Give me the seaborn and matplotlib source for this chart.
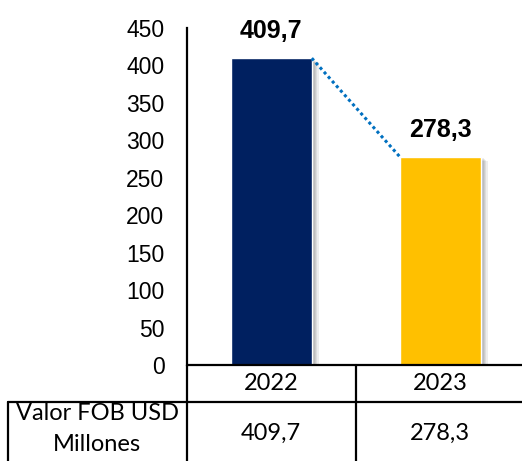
import pandas as pd
import matplotlib
matplotlib.use("Agg")
import matplotlib.pyplot as plt
import matplotlib.patheffects as pe
from matplotlib.lines import Line2D
import seaborn as sns

# Datos
anios = ["2022", "2023"]
valores = [409.7, 278.3]
etiquetas = ["409,7", "278,3"]
colores = ["#002060", "#FFC000"]
fila_titulo = "Valor FOB USD\nMillones"

W, H = 522, 461
sns.set_theme(style="white")
plt.rcParams["font.family"] = ["Liberation Sans", "DejaVu Sans"]

fig = plt.figure(figsize=(W / 100, H / 100), dpi=100)
ax = fig.add_axes([186.7 / W, (H - 365) / H, (W - 186.7) / W, (365 - 28) / H])

df = pd.DataFrame({"anio": anios, "valor": valores})
sns.barplot(data=df, x="anio", y="valor", hue="anio", palette=colores,
            width=0.48, legend=False, ax=ax, saturation=1)

# sombra difusa a la derecha
sombra = [pe.SimplePatchShadow(offset=(k, -0.6 * k), shadow_rgbFace="black", alpha=0.07)
          for k in (5, 4, 3, 2, 1)]
for p in ax.patches:
    p.set_path_effects(sombra + [pe.Normal()])

# linea punteada entre barras
ax.plot([0 + 0.24, 1 - 0.24], valores, color="#0070C0", lw=2.2,
        linestyle=(0, (1, 1)), zorder=5)

for i, (v, t) in enumerate(zip(valores, etiquetas)):
    ax.annotate(t, (i, v), xytext=(0, 19.5), textcoords="offset points",
                ha="center", va="center", fontsize=18, fontweight="bold",
                color="black")

ax.set_ylim(0, 450)
ax.set_xlim(-0.5, 1.484)
ax.set_yticks(range(0, 451, 50))
ax.tick_params(axis="y", labelsize=16.5, pad=16, length=0, colors="black")
ax.set_xticks([])
ax.set_xlabel("")
ax.set_ylabel("")
for s in ["top", "right", "bottom"]:
    ax.spines[s].set_visible(False)
ax.spines["left"].set_color("black")
ax.spines["left"].set_linewidth(1.6)


# tabla de datos
def px(x, y):
    return x / W, 1 - y / H


def linea(x0, y0, x1, y1):
    (a, b), (c, d) = px(x0, y0), px(x1, y1)
    fig.add_artist(Line2D([a, c], [b, d], color="black", lw=1.6))


linea(186.7, 365, W, 365)
linea(8, 401.7, W, 401.7)
linea(186.7, 365, 186.7, H)
linea(356, 365, 356, H)
linea(8, 401.7, 8, H)

tfont = dict(family=["Lato", "DejaVu Sans"], fontsize=17, color="black")
for i, (a, t) in enumerate(zip(anios, etiquetas)):
    xf = fig.transFigure.inverted().transform(ax.transData.transform((i, 0)))[0]
    fig.text(xf, px(0, 384)[1], a, ha="center", va="center", **tfont)
    fig.text(xf, px(0, 433)[1], t, ha="center", va="center", **tfont)
fig.text(*px(97, 429), fila_titulo, ha="center", va="center",
         linespacing=1.6, **tfont)

fig.savefig("out.png", dpi=100)
